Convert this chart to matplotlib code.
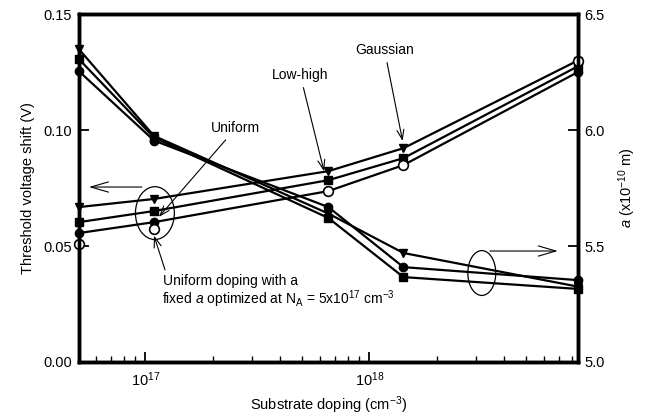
import numpy as np
import matplotlib
matplotlib.use('Agg')
import matplotlib.pyplot as plt
from matplotlib.patches import Ellipse
from matplotlib.ticker import LogLocator, NullFormatter

plt.rcParams['font.family'] = ['Liberation Sans', 'DejaVu Sans']
plt.rcParams['mathtext.fontset'] = 'custom'
plt.rcParams['mathtext.rm'] = 'Liberation Sans'
plt.rcParams['mathtext.it'] = 'Liberation Sans:italic'
plt.rcParams['font.size'] = 10.5

# substrate doping (cm^-3)
doping = [5e16, 1e17, 5e17, 1e18, 5e18]

# threshold voltage shift (V)
dvt_gauss = [0.0668, 0.0703, 0.0823, 0.0922, 0.1300]
dvt_lowhigh = [0.0603, 0.0651, 0.0784, 0.0879, 0.1275]
dvt_uniform = [0.0556, 0.0603, 0.0737, 0.0849, 0.1250]
dvt_fixed = [0.0509, 0.0573, 0.0737, 0.0849, 0.1298]

# a (x1e-10 m)
a_gauss = [6.349, 5.975, 5.640, 5.470, 5.325]
a_lowhigh = [6.306, 5.968, 5.621, 5.366, 5.315]
a_uniform = [6.254, 5.955, 5.668, 5.409, 5.353]

fig = plt.figure(figsize=(6.47, 4.17), dpi=100)
ax = fig.add_axes([0.122, 0.132, 0.771, 0.834])
axr = ax.twinx()
axt = ax.twiny()

line_kw = dict(color='black', lw=1.6, clip_on=False, zorder=3)
ax.plot(doping, dvt_gauss, marker='v', ms=6, **line_kw)
ax.plot(doping, dvt_lowhigh, marker='s', ms=6, **line_kw)
ax.plot(doping, dvt_uniform, marker='o', ms=6, **line_kw)
ax.plot(doping, dvt_fixed, ls='none', marker='o', ms=7, mfc='white', mec='black',
        mew=1.2, clip_on=False, zorder=4)

axr.plot(doping, a_gauss, marker='v', ms=6, **line_kw)
axr.plot(doping, a_lowhigh, marker='s', ms=6, **line_kw)
axr.plot(doping, a_uniform, marker='o', ms=6, **line_kw)

ax.set_xscale('log')
ax.set_xlim(5e16, 5e18)
ax.set_ylim(0, 0.15)
axr.set_ylim(5.0, 6.5)
ax.tick_params(axis='x', which='both', bottom=False, top=False,
               labelbottom=False, labeltop=False)

# tick axis for the doping scale
axt.set_xscale('log')
axt.set_xlim(10**16.704, 10**18.930)
axt.xaxis.set_ticks_position('bottom')
axt.xaxis.set_label_position('bottom')
axt.xaxis.set_major_locator(LogLocator(base=10))
axt.xaxis.set_minor_locator(LogLocator(base=10, subs=np.arange(2, 10)))
axt.xaxis.set_minor_formatter(NullFormatter())
axt.tick_params(axis='x', which='major', direction='in', length=7, width=1.3, pad=6)
axt.tick_params(axis='x', which='minor', direction='in', length=4.5, width=1.0)
axt.set_xlabel('Substrate doping (cm$^{-3}$)', labelpad=4)

ax.set_yticks([0, 0.05, 0.10, 0.15])
ax.set_yticklabels(['0.00', '0.05', '0.10', '0.15'])
ax.tick_params(axis='y', direction='in', length=7, width=1.3, pad=5)
axr.set_yticks([5.0, 5.5, 6.0, 6.5])
axr.set_yticklabels(['5.0', '5.5', '6.0', '6.5'])
axr.tick_params(axis='y', direction='in', length=7, width=1.3, pad=5)

for a in (ax, axr, axt):
    for s in a.spines.values():
        s.set_linewidth(2.4)
axt.patch.set_visible(False)

ax.set_ylabel('Threshold voltage shift (V)', labelpad=6)
axr.set_ylabel('$a$ (x10$^{-10}$ m)', labelpad=8)

arr = dict(arrowstyle='->, head_length=0.7, head_width=0.25', color='black', lw=0.8,
           shrinkA=2, shrinkB=3)
ax.annotate('Gaussian', xy=(1e18, 0.0935), xytext=(8.4e17, 0.1345),
            ha='center', va='center', fontsize=10, arrowprops=arr, zorder=6)
ax.annotate('Low-high', xy=(4.85e17, 0.0805), xytext=(3.86e17, 0.1237),
            ha='center', va='center', fontsize=10, arrowprops=arr, zorder=6)
ax.annotate('Uniform', xy=(1.02e17, 0.0612), xytext=(2.13e17, 0.1009),
            ha='center', va='center', fontsize=10, arrowprops=arr, zorder=6)
ax.annotate('', xy=(1e17, 0.0545), xytext=(1.107e17, 0.0397),
            arrowprops=dict(arr, shrinkA=0, shrinkB=0), zorder=6)

ax.text(1.087e17, 0.0349, 'Uniform doping with a', ha='left', va='center', fontsize=10)
ax.text(1.075e17, 0.0272, 'fixed $a$ optimized at N$_\\mathrm{A}$ = 5x10$^{17}$ cm$^{-3}$',
        ha='left', va='center', fontsize=10)

# ellipses marking which axis each group belongs to
ax.add_patch(Ellipse((0.1523, 0.428), 0.078, 0.152, transform=ax.transAxes,
                     fill=False, lw=0.9, color='black', zorder=6))
axr.add_patch(Ellipse((0.8076, 0.2557), 0.056, 0.129, transform=ax.transAxes,
                      fill=False, lw=0.9, color='black', zorder=6))

big = dict(arrowstyle='->, head_length=1.2, head_width=0.35', color='black', lw=0.8,
           shrinkA=0, shrinkB=0)
ax.annotate('', xy=(0.020, 0.503), xytext=(0.126, 0.503), xycoords='axes fraction',
            textcoords='axes fraction', arrowprops=big)
axr.annotate('', xy=(0.960, 0.319), xytext=(0.824, 0.319), xycoords='axes fraction',
             textcoords='axes fraction', arrowprops=big)

fig.savefig('out.png', dpi=100)
